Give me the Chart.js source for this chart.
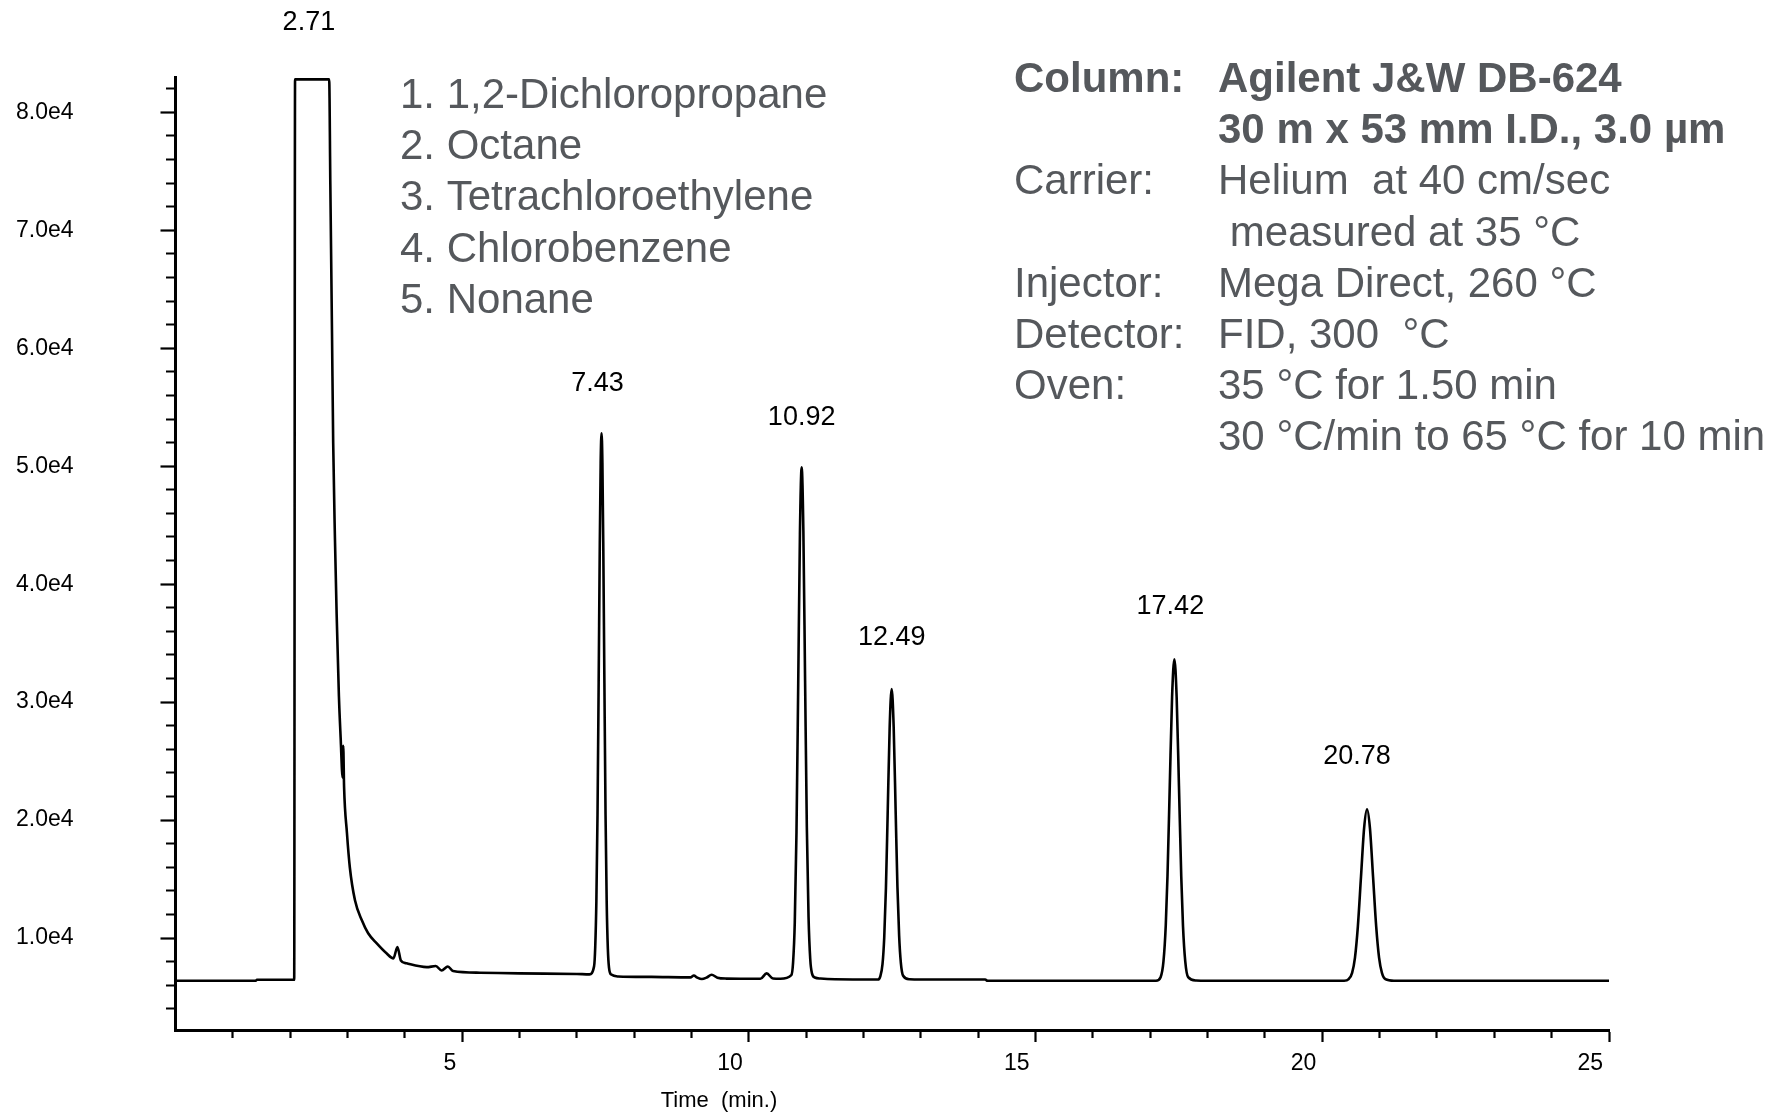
<!DOCTYPE html>
<html>
<head>
<meta charset="utf-8">
<script src="https://cdn.jsdelivr.net/npm/chart.js@4.4.0/dist/chart.umd.min.js"></script>
<style>
  html, body { margin: 0; padding: 0; background: #ffffff; }
  #wrap { width: 1782px; height: 1115px; position: relative; }
</style>
</head>
<body>
<div id="wrap"><canvas id="c" width="1782" height="1115"></canvas></div>
<script>
// ---- Data ----
const times = [
  0, 1.40, 1.42, 2.07, 2.085, 2.68, 2.70, 2.73, 2.75, 2.78, 2.81, 2.85, 2.88, 2.915, 2.925, 2.94,
  2.99, 3.04, 3.13, 3.25, 3.36, 3.51, 3.68, 3.80, 3.87, 3.93, 4.03, 4.38, 4.54, 4.64, 4.75, 4.84,
  5.31, 6.00, 7.00, 7.22, 7.30, 7.32, 7.34, 7.36, 7.38, 7.40, 7.415, 7.43, 7.445, 7.46, 7.48, 7.50,
  7.52, 7.54, 7.56, 7.60, 7.72, 8.30, 8.98, 9.04, 9.10, 9.18, 9.26, 9.35, 9.45, 9.60, 10.20, 10.31,
  10.42, 10.55, 10.74, 10.77, 10.80, 10.83, 10.86, 10.89, 10.92, 10.95, 10.98, 11.01, 11.04, 11.07,
  11.10, 11.15, 11.25, 11.50, 12.25, 12.29, 12.33, 12.36, 12.39, 12.42, 12.455, 12.49, 12.525, 12.56,
  12.59, 12.62, 12.65, 12.69, 12.80, 13.00, 14.12, 14.16, 17.10, 17.18, 17.23, 17.27, 17.30, 17.34,
  17.38, 17.42, 17.46, 17.50, 17.54, 17.57, 17.61, 17.66, 17.80, 18.00, 20.38, 20.46, 20.52, 20.57,
  20.62, 20.675, 20.73, 20.78, 20.83, 20.885, 20.94, 20.99, 21.04, 21.10, 21.25, 25.00
];
const signal = [
  6380, 6380, 6460, 6460, 82800, 82800, 74000, 61000, 52000, 44000, 37500, 30500, 27000, 23600, 26300, 22800,
  18900, 16000, 13200, 11500, 10400, 9540, 8700, 8270, 9230, 8100, 7850, 7530, 7620, 7250, 7580, 7200,
  7060, 7000, 6950, 6920, 7600, 9240, 13110, 20490, 31690, 43620, 50320, 52800, 50300, 43500, 31600, 20400,
  13000, 9100, 7500, 6900, 6740, 6700, 6660, 6820, 6640, 6520, 6640, 6880, 6640, 6560, 6540, 7000,
  6560, 6540, 6850, 7890, 11310, 18980, 31500, 44250, 49900, 44500, 31800, 19500, 11800, 8200,
  7000, 6650, 6560, 6500, 6480, 6730, 7780, 10020, 14260, 20510, 27870, 31100, 27870, 20600,
  14400, 10200, 7900, 6800, 6500, 6480, 6480, 6380, 6380, 6680, 8010, 11070, 15240, 22920,
  30410, 33630, 30410, 22920, 15240, 11070, 8010, 6680, 6400, 6380, 6380, 6520, 7050, 8340,
  10960, 15200, 19350, 20910, 19350, 15200, 10960, 8340, 7050, 6520, 6380, 6380
];

const peakTimes  = [2.71, 7.43, 10.92, 12.49, 17.42, 20.78];
const peakTops   = [82800, 52800, 49900, 31100, 33630, 20910];
const peakLabels = ['2.71', '7.43', '10.92', '12.49', '17.42', '20.78'];

const compounds = ['1,2-Dichloropropane', 'Octane', 'Tetrachloroethylene', 'Chlorobenzene', 'Nonane'];

const methodLabels = ['Column:', '', 'Carrier:', '', 'Injector:', 'Detector:', 'Oven:', ''];
const methodValues = [
  'Agilent J&W DB-624',
  '30 m x 53 mm I.D., 3.0 \u00b5m',
  'Helium  at 40 cm/sec',
  ' measured at 35 \u00b0C',
  'Mega Direct, 260 \u00b0C',
  'FID, 300  \u00b0C',
  '35 \u00b0C for 1.50 min',
  '30 \u00b0C/min to 65 \u00b0C for 10 min'
];
const methodBold = [true, true, false, false, false, false, false, false];

const xTickValues = [5, 10, 15, 20, 25];
const xTickLabels = ['5', '10', '15', '20', '25'];
const yTickValues = [10000, 20000, 30000, 40000, 50000, 60000, 70000, 80000];
const yTickLabels = ['1.0e4', '2.0e4', '3.0e4', '4.0e4', '5.0e4', '6.0e4', '7.0e4', '8.0e4'];
const yMinorStep = 2000;
const yFirstTick = 4000;
const yLastTick = 82000;
const xAxisTitle = 'Time  (min.)';

// ---- Rendering ----
const FONT = '"Liberation Sans", Arial, Helvetica, sans-serif';
const TEXT_GRAY = '#55585c';

const textPlugin = {
  id: 'chromText',
  afterDraw(chart, args, opts) {
    const { ctx } = chart;
    const xs = chart.scales.x, ys = chart.scales.y;
    ctx.save();
    // peak retention time labels
    ctx.fillStyle = '#000';
    ctx.font = '27px ' + FONT;
    ctx.textAlign = 'center';
    ctx.textBaseline = 'alphabetic';
    peakLabels.forEach((lab, i) => {
      const px = xs.getPixelForValue(peakTimes[i]) + opts.peakDx[i];
      const py = ys.getPixelForValue(peakTops[i]) - opts.peakRise[i];
      ctx.fillText(lab, px, py);
    });
    // compound list
    ctx.fillStyle = TEXT_GRAY;
    ctx.textAlign = 'left';
    ctx.font = '42px ' + FONT;
    compounds.forEach((c, i) => {
      ctx.fillText((i + 1) + '. ' + c, opts.legendX, opts.legendY + i * opts.lineStep);
    });
    // method block
    methodLabels.forEach((lab, i) => {
      ctx.font = (methodBold[i] ? 'bold ' : '') + '42px ' + FONT;
      const yy = opts.methodY + i * opts.lineStep;
      if (lab) ctx.fillText(lab, opts.methodLabelX, yy);
      ctx.fillText(methodValues[i], opts.methodValueX, yy);
    });
    // x axis title
    ctx.fillStyle = '#000';
    ctx.font = '22px ' + FONT;
    ctx.textAlign = 'center';
    ctx.fillText(xAxisTitle, opts.titleX, opts.titleY);
    ctx.restore();
  }
};

const isMajorX = v => v % 5 === 0;
const isMajorY = v => v % 10000 === 0;

new Chart(document.getElementById('c'), {
  type: 'line',
  data: {
    datasets: [{
      data: times.map((t, i) => ({ x: t, y: signal[i] })),
      borderColor: '#000',
      borderWidth: 2.6,
      pointRadius: 0,
      fill: false,
      cubicInterpolationMode: 'monotone',
      clip: false
    }]
  },
  options: {
    responsive: false,
    animation: false,
    devicePixelRatio: 1,
    layout: { padding: { left: 16, right: 173, top: 77, bottom: 0 } },
    plugins: {
      legend: { display: false },
      tooltip: { enabled: false },
      chromText: {
        peakDx: [-22, -4, 0, 0, -4, -10],
        peakRise: [49, 42, 42, 44, 45, 45],
        legendX: 400, legendY: 108,
        methodLabelX: 1014, methodValueX: 1218, methodY: 92,
        lineStep: 51.2,
        titleX: 719, titleY: 1107
      }
    },
    scales: {
      x: {
        type: 'linear',
        min: 0, max: 25,
        afterFit: s => { s.height = 85; },
        border: { display: true, color: '#000', width: 3 },
        grid: {
          display: true,
          drawOnChartArea: false,
          drawTicks: true,
          tickLength: 12,
          tickWidth: 2.2,
          tickColor: c => (c.tick && c.tick.value === 0) ? 'rgba(0,0,0,0)' : '#000',
          tickBorderDash: c => (c.tick && isMajorX(c.tick.value)) ? [] : [6, 1000]
        },
        ticks: {
          stepSize: 1,
          autoSkip: false,
          maxTicksLimit: 100,
          maxRotation: 0, minRotation: 0,
          align: 'end',
          labelOffset: -6,
          padding: 8,
          color: '#000',
          font: { family: FONT, size: 23 },
          callback: v => { const k = xTickValues.indexOf(v); return k >= 0 ? xTickLabels[k] : ''; }
        }
      },
      y: {
        type: 'linear',
        min: 2200, max: 83000,
        afterFit: s => { s.width = 159.5; },
        afterBuildTicks: s => {
          const t = [];
          for (let v = yFirstTick; v <= yLastTick; v += yMinorStep) t.push({ value: v });
          s.ticks = t;
        },
        border: { display: true, color: '#000', width: 3 },
        grid: {
          display: true,
          drawOnChartArea: false,
          drawTicks: true,
          tickLength: 15,
          tickWidth: 2.2,
          tickColor: '#000',
          tickBorderDash: c => (c.tick && isMajorY(c.tick.value)) ? [] : [0, 5.5, 8, 1000]
        },
        ticks: {
          autoSkip: false,
          crossAlign: 'far',
          padding: 0,
          color: '#000',
          font: { family: FONT, size: 23 },
          callback: v => { const k = yTickValues.indexOf(v); return k >= 0 ? yTickLabels[k] : ''; }
        }
      }
    }
  },
  plugins: [textPlugin]
});
</script>
</body>
</html>
